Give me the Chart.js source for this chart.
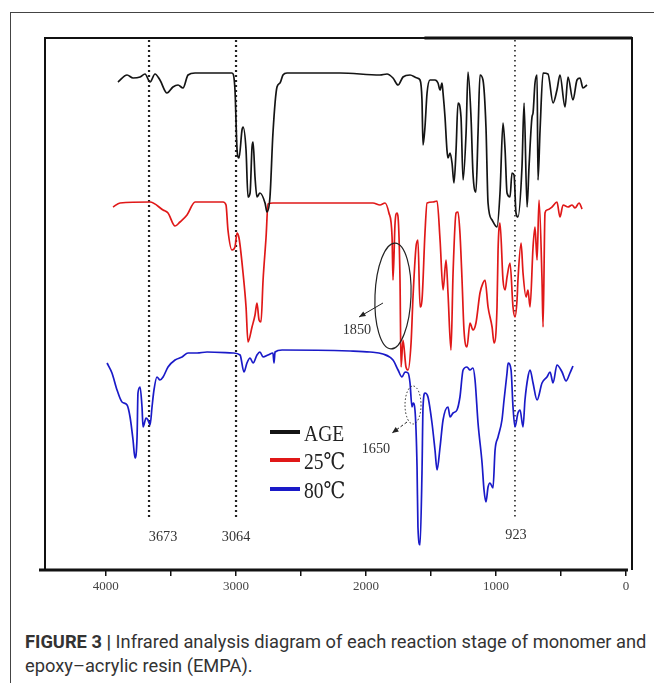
<!DOCTYPE html>
<html>
<head>
<meta charset="utf-8">
<script src="https://cdn.jsdelivr.net/npm/chart.js@4"></script>
<style>
  body { margin: 0; background: #fff; width: 654px; height: 683px; overflow: hidden; position: relative; }
  #frame { position: absolute; left: 10px; top: 12px; width: 660px; height: 700px; border-left: 1.5px solid #444; border-top: 1.5px solid #444; }
  #chart { position: absolute; left: 0; top: 0; }
  #caption { position: absolute; left: 25px; top: 630px; width: 630px; font-family: Roboto, "Liberation Sans", sans-serif; font-size: 18.3px; line-height: 24px; color: #333; white-space: nowrap; }
  #caption b { font-weight: 700; }
</style>
</head>
<body>
<div id="frame"></div>
<canvas id="chart" width="654" height="600"></canvas>
<div id="caption"><b>FIGURE 3 |</b> Infrared analysis diagram of each reaction stage of monomer and<br>epoxy–acrylic resin (EMPA).</div>
<script>
// wavenumber (cm-1) / transmittance (offset, a.u.)
const ageWn = [3907,3837,3791,3737,3699,3660,3622,3584,3530,3484,3445,3407,3368,3314,3030,3007,2991,2976,2953,2945,2922,2907,2891,2876,2868,2853,2838,2815,2776,2761,2738,2715,2684,2661,2638,2607,2200,1892,1838,1792,1753,1715,1661,1607,1584,1569,1561,1546,1530,1507,1469,1446,1430,1415,1407,1392,1377,1369,1353,1338,1323,1307,1292,1269,1253,1230,1215,1192,1177,1154,1138,1123,1100,1077,1061,1030,992,969,946,930,915,892,877,861,846,831,800,784,761,746,723,715,700,684,677,661,638,600,561,531,508,469,446,408,377,354,331,300];
const ageT = [488,495,492,493,496,488,496,490,477,483,485,482,495,497,497,480,420,412,440,443,420,373,377,423,428,393,373,377,367,358,373,437,483,487,495,497,497,495,496,492,485,493,495,492,490,470,425,443,477,490,490,487,480,487,477,453,420,412,417,407,387,420,467,453,390,437,498,453,397,378,437,495,490,443,367,350,343,377,447,420,377,373,397,395,357,353,403,467,363,403,453,457,487,495,390,440,497,496,467,480,495,463,493,470,490,492,482,485];

const r25Wn = [3945,3891,3660,3560,3522,3468,3430,3376,3314,3099,3076,3061,3030,3007,2991,2976,2945,2922,2907,2876,2853,2838,2822,2807,2791,2768,2753,2715,1946,1892,1853,1823,1799,1792,1776,1761,1753,1738,1730,1715,1692,1676,1653,1638,1615,1600,1584,1569,1546,1530,1484,1453,1430,1407,1384,1369,1346,1330,1307,1292,1277,1261,1246,1223,1200,1177,1154,1123,1100,1084,1061,1030,1015,992,984,969,946,930,915,892,869,854,838,831,807,792,769,754,738,715,700,684,669,646,638,623,608,569,531,508,484,446,415,392,361,338];
const r25T = [363,367,368,360,357,344,348,355,368,368,365,340,320,323,337,332,297,263,228,243,255,267,250,248,290,333,366,367,367,365,367,357,333,290,347,357,353,290,203,230,203,200,227,273,323,330,263,270,337,367,368,369,330,280,310,277,220,297,357,358,337,290,240,223,247,240,247,277,287,290,263,243,227,263,320,347,290,280,293,307,263,253,270,290,327,297,273,280,263,323,343,310,370,290,243,357,360,363,368,353,365,363,365,362,367,361];

const r80Wn = [3991,3953,3914,3876,3837,3814,3791,3776,3760,3753,3737,3722,3714,3691,3676,3660,3645,3630,3607,3584,3560,3522,3468,3414,3368,3299,3222,3022,2968,2938,2915,2891,2868,2838,2815,2791,2753,2715,2707,2699,2645,2122,1969,1869,1792,1753,1723,1699,1676,1661,1646,1638,1623,1607,1600,1584,1569,1561,1546,1523,1492,1469,1453,1430,1407,1369,1353,1330,1300,1277,1253,1223,1200,1177,1161,1138,1107,1092,1077,1061,1046,1023,1007,984,954,938,915,907,884,869,854,831,815,792,777,754,738,715,684,646,608,584,561,531,492,461,431,408];
const r80T = [207,197,180,168,165,153,130,112,133,177,183,163,143,152,150,145,163,180,193,190,193,203,210,213,217,217,218,217,215,198,207,212,207,215,218,213,215,217,207,218,220,219,218,216,210,200,193,198,197,187,163,167,160,103,43,25,97,163,177,173,147,120,100,123,150,163,153,157,160,173,200,203,200,202,190,147,107,80,68,83,87,82,120,133,150,170,197,207,200,163,143,157,160,143,170,193,200,187,170,187,193,198,187,205,198,189,197,204];

const seriesNames = ["AGE", "25\u2103", "80\u2103"];
const seriesColors = ["#141414", "#e01818", "#1a1ac8"];
const xTicks = [0, 500, 1000, 1500, 2000, 2500, 3000, 3500, 4000];
const markerPos = [3668, 2999, 854];
const markerLabels = ["3673", "3064", "923"];

const toXY = (wn, t) => wn.map((w, i) => ({ x: w, y: t[i] }));

const SERIF = '"Liberation Serif", "DejaVu Serif", "Noto Sans CJK SC", serif';

function txt(ctx, s, px, py, size, sx, align) {
    ctx.save();
    ctx.translate(px, py);
    ctx.scale(sx, 1);
    ctx.font = size + "px " + SERIF;
    ctx.textAlign = align || "left";
    ctx.textBaseline = "middle";
    ctx.fillText(s, 0, 0);
    ctx.restore();
}

function arrow(ctx, x1, y1, x2, y2, dash) {
    ctx.save();
    ctx.strokeStyle = "#222";
    ctx.fillStyle = "#222";
    ctx.lineWidth = 1;
    ctx.setLineDash(dash);
    ctx.beginPath();
    ctx.moveTo(x1, y1);
    ctx.lineTo(x2, y2);
    ctx.stroke();
    ctx.setLineDash([]);
    const a = Math.atan2(y2 - y1, x2 - x1);
    ctx.beginPath();
    ctx.moveTo(x2, y2);
    ctx.lineTo(x2 - 7 * Math.cos(a - 0.4), y2 - 7 * Math.sin(a - 0.4));
    ctx.lineTo(x2 - 7 * Math.cos(a + 0.4), y2 - 7 * Math.sin(a + 0.4));
    ctx.closePath();
    ctx.fill();
    ctx.restore();
}

const markers = {
    id: "markers",
    beforeDatasetsDraw(chart) {
        const { ctx, scales: { x, y } } = chart;
        ctx.save();
        ctx.strokeStyle = "#222";
        markerPos.forEach((m, i) => {
            const px = x.getPixelForValue(m);
            ctx.lineWidth = i < 2 ? 2.2 : 1.6;
            ctx.setLineDash(i < 2 ? [2, 3] : [1.6, 3.4]);
            ctx.beginPath();
            ctx.moveTo(px, y.getPixelForValue(530));
            ctx.lineTo(px, y.getPixelForValue(52));
            ctx.stroke();
        });
        ctx.restore();
    },
    afterDatasetsDraw(chart) {
        const { ctx, chartArea: a, scales: { x, y } } = chart;
        const X = v => x.getPixelForValue(v), Y = v => y.getPixelForValue(v);
        ctx.save();
        // frame
        ctx.strokeStyle = "#111";
        ctx.lineWidth = 2;
        ctx.beginPath();
        ctx.moveTo(a.left, a.bottom);
        ctx.lineTo(a.left, a.top);
        ctx.lineTo(a.right, a.top);
        ctx.lineTo(a.right, a.bottom);
        ctx.stroke();
        ctx.lineWidth = 2.8;
        ctx.beginPath();
        ctx.moveTo(X(1550), a.top);
        ctx.lineTo(a.right, a.top);
        ctx.stroke();
        ctx.lineWidth = 3;
        ctx.beginPath();
        ctx.moveTo(a.left - 6, a.bottom);
        ctx.lineTo(X(-15), a.bottom);
        ctx.stroke();

        // marker labels
        ctx.fillStyle = "#333";
        txt(ctx, markerLabels[0], X(3560), Y(33), 15, 0.95, "center");
        txt(ctx, markerLabels[1], X(2999), Y(33), 15, 0.95, "center");
        txt(ctx, markerLabels[2], X(846), Y(35), 15, 0.95, "center");

        // 1850 ellipse + arrow
        ctx.strokeStyle = "#222";
        ctx.lineWidth = 1.2;
        ctx.beginPath();
        ctx.ellipse(X(1792), Y(274), 18, 53, 0.04, 0, Math.PI * 2);
        ctx.stroke();
        arrow(ctx, X(1869), Y(267), X(2053), Y(253), []);
        txt(ctx, "1850", X(2069), Y(240), 15, 0.95, "center");

        // 1650 dotted ellipse + dashed arrow
        ctx.save();
        ctx.lineWidth = 1;
        ctx.setLineDash([1.5, 2]);
        ctx.beginPath();
        ctx.ellipse(X(1638), Y(165), 8, 19, 0, 0, Math.PI * 2);
        ctx.stroke();
        ctx.restore();
        arrow(ctx, X(1684), Y(148), X(1799), Y(137), [3, 2]);
        txt(ctx, "1650", X(1923), Y(121), 15, 0.95, "center");

        // legend
        const legY = [138, 110, 81];
        chart.data.datasets.forEach((ds, i) => {
            ctx.strokeStyle = ds.borderColor;
            ctx.lineWidth = 4;
            ctx.beginPath();
            ctx.moveTo(X(2738), Y(legY[i]));
            ctx.lineTo(X(2507), Y(legY[i]));
            ctx.stroke();
            ctx.fillStyle = "#222";
            txt(ctx, ds.label, X(2476), Y(legY[i]) + 3, 23, 0.85);
        });
        ctx.restore();
    }
};

new Chart(document.getElementById("chart"), {
    type: "line",
    data: {
        datasets: [
            { label: seriesNames[0], data: toXY(ageWn, ageT), borderColor: seriesColors[0] },
            { label: seriesNames[1], data: toXY(r25Wn, r25T), borderColor: seriesColors[1] },
            { label: seriesNames[2], data: toXY(r80Wn, r80T), borderColor: seriesColors[2] }
        ]
    },
    options: {
        responsive: false,
        animation: false,
        layout: { padding: { left: 45, right: 22, top: 38, bottom: 0 } },
        elements: {
            point: { radius: 0 },
            line: { borderWidth: 1.7, cubicInterpolationMode: "monotone" }
        },
        plugins: { legend: { display: false }, tooltip: { enabled: false } },
        scales: {
            x: {
                type: "linear",
                reverse: true,
                min: -46,
                max: 4468,
                afterBuildTicks: s => { s.ticks = xTicks.map(v => ({ value: v })); },
                afterFit: s => { s.height = 30; },
                border: { display: false },
                grid: { drawOnChartArea: false, drawTicks: true, tickLength: 6, lineWidth: 1.5, color: "#111" },
                ticks: {
                    autoSkip: false,
                    maxRotation: 0,
                    padding: 3,
                    color: "#444",
                    font: { family: SERIF, size: 13 },
                    callback: v => (v % 1000 === 0 ? String(v) : "")
                }
            },
            y: { display: false, min: 0, max: 532 }
        }
    },
    plugins: [markers]
});
</script>
</body>
</html>
